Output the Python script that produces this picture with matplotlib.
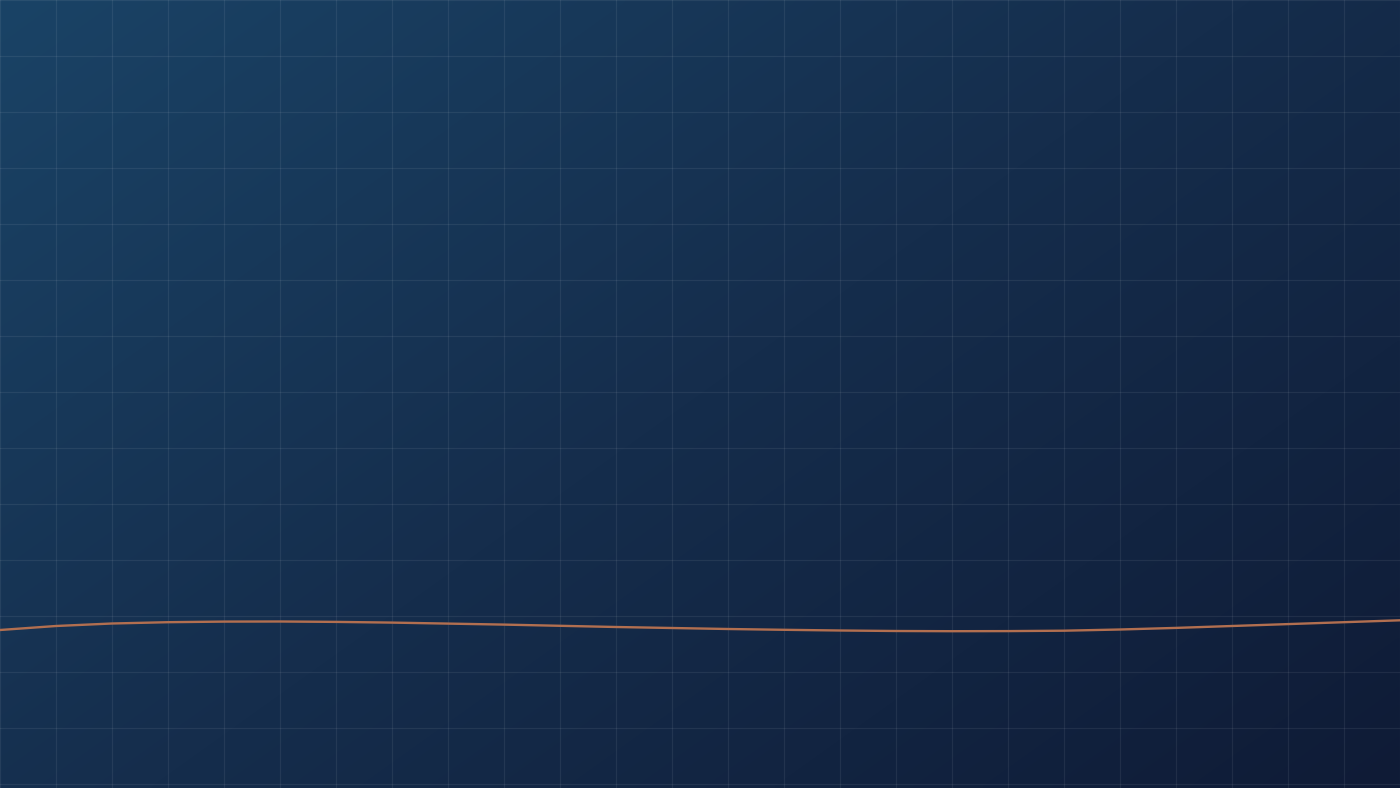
import numpy as np
import matplotlib
matplotlib.use("Agg")
import matplotlib.pyplot as plt
from matplotlib.ticker import MultipleLocator

# Data: line heights (px-units above bottom grid line) read at each vertical grid line
x_pos = [0, 56, 112, 168, 224, 280, 336, 392, 448, 504, 560, 616, 672, 728,
         784, 840, 896, 952, 1008, 1064, 1120, 1176, 1232, 1288, 1344, 1400]
line_vals = [154.0, 158.0, 160.5, 161.8, 162.4, 162.5, 162.1, 161.4, 160.4, 159.4,
             158.2, 157.0, 156.0, 155.0, 154.2, 153.5, 153.0, 152.8, 152.9, 153.3,
             154.5, 156.1, 158.0, 159.9, 161.8, 163.7]

W, H = 1400, 788
fig = plt.figure(figsize=(14, 7.88), dpi=100)
ax = fig.add_axes([0, 0, 1, 1])

# diagonal gradient background
c_tl = np.array([0x1a, 0x43, 0x66]) / 255
c_mid = np.array([0x15, 0x2d, 0x4c]) / 255
c_br = np.array([0x0f, 0x1b, 0x36]) / 255
ny, nx = 200, 350
yy, xx = np.mgrid[0:ny, 0:nx]
t = (xx / (nx - 1) * 0.56 + yy / (ny - 1) * 0.44)
t = np.clip(t, 0, 1)[..., None]
img = np.where(t < 0.5, c_tl + (c_mid - c_tl) * (t / 0.5),
               c_mid + (c_br - c_mid) * ((t - 0.5) / 0.5))
ax.imshow(img, extent=[0, W, -4, 784], origin="upper", aspect="auto",
          interpolation="bilinear", zorder=0)

ax.set_xlim(0, W)
ax.set_ylim(-4, 784)
ax.xaxis.set_major_locator(MultipleLocator(56))
ax.yaxis.set_major_locator(MultipleLocator(56))
ax.grid(True, color="white", alpha=0.07, linewidth=0.9, zorder=1)
ax.set_axisbelow(False)
ax.tick_params(length=0, labelbottom=False, labelleft=False)
for s in ax.spines.values():
    s.set_visible(False)

ax.plot(x_pos, line_vals, color="#b26f50", linewidth=1.7, zorder=3,
        solid_capstyle="round")

fig.savefig("out.png", dpi=100)
